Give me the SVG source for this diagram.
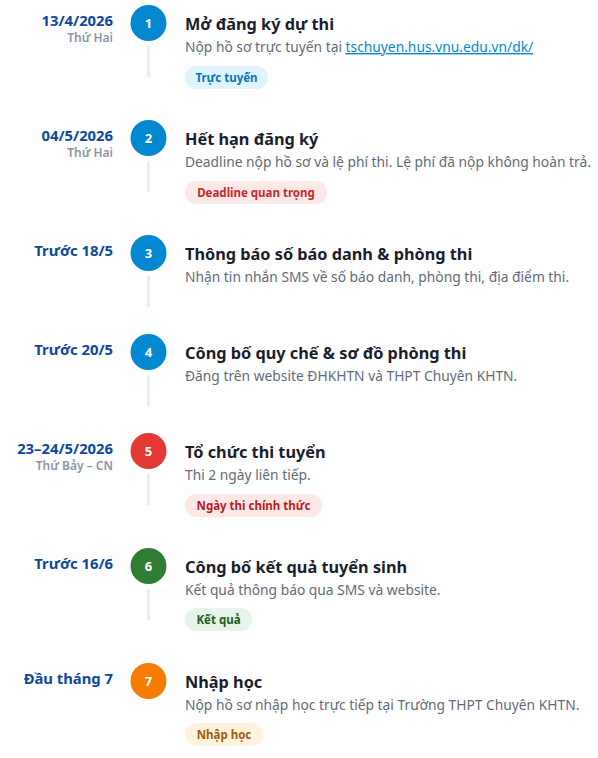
<svg xmlns="http://www.w3.org/2000/svg" width="598" height="758" viewBox="0 0 598 758">
<style>
text{font-family:"Noto Sans","Open Sans","Liberation Sans",sans-serif}
.date{font-size:14.8px;font-weight:700;fill:#0d47a1;text-anchor:end}
.sub{font-size:12px;font-weight:600;fill:#8a94a6;text-anchor:end}
.num{font-size:13px;font-weight:700;fill:#fff;text-anchor:middle}
.title{font-size:16.3px;font-weight:700;fill:#1a1d2e}
.desc{font-size:13.8px;fill:#5f6b7a}
.link{fill:#0288d1;text-decoration:underline}
.badge{font-size:11.5px;font-weight:700}
.line{stroke:#e1f0fa;stroke-width:3}
</style>
<g id="connectors">
<line class="line" x1="148.5" y1="46" x2="148.5" y2="77"/>
<line class="line" x1="148.5" y1="161" x2="148.5" y2="192"/>
<line class="line" x1="148.5" y1="276" x2="148.5" y2="307"/>
<line class="line" x1="148.5" y1="375" x2="148.5" y2="406"/>
<line class="line" x1="148.5" y1="474" x2="148.5" y2="505"/>
<line class="line" x1="148.5" y1="589" x2="148.5" y2="620"/>
</g>
<g id="step1">
<text class="date" x="113" y="25.5">13/4/2026</text>
<text class="sub" x="113" y="41.5">Thứ Hai</text>
<circle cx="148.5" cy="23" r="18" fill="#0288d1"/>
<text class="num" x="148.5" y="27.5">1</text>
<text class="title" x="185" y="30">Mở đăng ký dự thi</text>
<text class="desc" x="185" y="52">Nộp hồ sơ trực tuyến tại <tspan class="link">tschuyen.hus.vnu.edu.vn/dk/</tspan></text>
<rect x="185" y="66" width="83" height="23" rx="11.5" fill="#e1f3fc"/>
<text class="badge" x="226.5" y="82" text-anchor="middle" fill="#0277bd">Trực tuyến</text>
</g>
<g id="step2">
<text class="date" x="113" y="140.5">04/5/2026</text>
<text class="sub" x="113" y="156.5">Thứ Hai</text>
<circle cx="148.5" cy="138" r="18" fill="#0288d1"/>
<text class="num" x="148.5" y="142.5">2</text>
<text class="title" x="185" y="145">Hết hạn đăng ký</text>
<text class="desc" x="185" y="167">Deadline nộp hồ sơ và lệ phí thi. Lệ phí đã nộp không hoàn trả.</text>
<rect x="185" y="181" width="142" height="23" rx="11.5" fill="#fde8e8"/>
<text class="badge" x="256" y="197" text-anchor="middle" fill="#c62828">Deadline quan trọng</text>
</g>
<g id="step3">
<text class="date" x="113" y="255.5">Trước 18/5</text>
<circle cx="148.5" cy="253" r="18" fill="#0288d1"/>
<text class="num" x="148.5" y="257.5">3</text>
<text class="title" x="185" y="260">Thông báo số báo danh &amp; phòng thi</text>
<text class="desc" x="185" y="282">Nhận tin nhắn SMS về số báo danh, phòng thi, địa điểm thi.</text>
</g>
<g id="step4">
<text class="date" x="113" y="354.5">Trước 20/5</text>
<circle cx="148.5" cy="352" r="18" fill="#0288d1"/>
<text class="num" x="148.5" y="356.5">4</text>
<text class="title" x="185" y="359">Công bố quy chế &amp; sơ đồ phòng thi</text>
<text class="desc" x="185" y="381">Đăng trên website ĐHKHTN và THPT Chuyên KHTN.</text>
</g>
<g id="step5">
<text class="date" x="113" y="453.5">23–24/5/2026</text>
<text class="sub" x="113" y="469.5">Thứ Bảy – CN</text>
<circle cx="148.5" cy="451" r="18" fill="#e53935"/>
<text class="num" x="148.5" y="455.5">5</text>
<text class="title" x="185" y="458">Tổ chức thi tuyển</text>
<text class="desc" x="185" y="480">Thi 2 ngày liên tiếp.</text>
<rect x="185" y="494" width="137" height="23" rx="11.5" fill="#fde8e8"/>
<text class="badge" x="253.5" y="510" text-anchor="middle" fill="#b71c1c">Ngày thi chính thức</text>
</g>
<g id="step6">
<text class="date" x="113" y="568.5">Trước 16/6</text>
<circle cx="148.5" cy="566" r="18" fill="#2e7d32"/>
<text class="num" x="148.5" y="570.5">6</text>
<text class="title" x="185" y="573">Công bố kết quả tuyển sinh</text>
<text class="desc" x="185" y="595">Kết quả thông báo qua SMS và website.</text>
<rect x="185" y="608" width="67" height="23" rx="11.5" fill="#e6f4ea"/>
<text class="badge" x="218.5" y="624" text-anchor="middle" fill="#1b5e20">Kết quả</text>
</g>
<g id="step7">
<text class="date" x="113" y="683.5">Đầu tháng 7</text>
<circle cx="148.5" cy="681" r="18" fill="#f57c00"/>
<text class="num" x="148.5" y="685.5">7</text>
<text class="title" x="185" y="688">Nhập học</text>
<text class="desc" x="185" y="710">Nộp hồ sơ nhập học trực tiếp tại Trường THPT Chuyên KHTN.</text>
<rect x="185" y="723" width="78" height="23" rx="11.5" fill="#fff3e0"/>
<text class="badge" x="224" y="739" text-anchor="middle" fill="#a15c07">Nhập học</text>
</g>
</svg>
